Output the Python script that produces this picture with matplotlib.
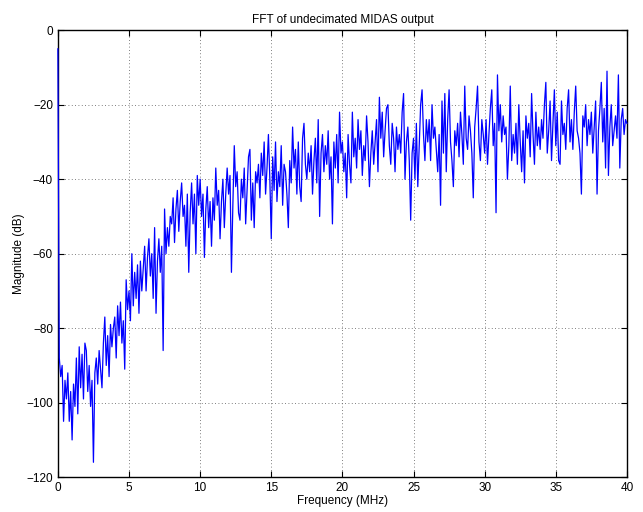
import numpy as np
import matplotlib
matplotlib.use("Agg")
import matplotlib.pyplot as plt

plt.rcParams['font.family'] = ['Liberation Sans', 'DejaVu Sans']

# magnitude (dB), every 0.1 MHz from 0 to 40 MHz
mag_db = [
    -5, -88, -93, -90, -105, -94, -99, -92, -105, -97, -110, -95, -101, -88, -103, -85, -96, -87, -99, -84,
    -86, -97, -90, -101, -94, -116, -92, -88, -95, -86, -91, -96, -84, -77, -90, -82, -93, -79, -85, -80,
    -77, -88, -74, -82, -73, -84, -78, -91, -67, -75, -70, -78, -60, -74, -65, -72, -63, -76, -62, -70,
    -64, -58, -70, -61, -56, -66, -60, -72, -53, -76, -62, -56, -65, -58, -86, -48, -60, -53, -58, -50,
    -52, -45, -57, -48, -43, -54, -46, -41, -50, -47, -58, -44, -65, -49, -41, -52, -44, -60, -39, -47,
    -40, -50, -44, -61, -48, -42, -53, -46, -58, -45, -51, -37, -47, -43, -56, -46, -40, -53, -44, -37,
    -44, -39, -65, -47, -31, -42, -38, -49, -51, -40, -45, -37, -52, -43, -34, -32, -51, -41, -53, -38,
    -41, -36, -45, -33, -39, -30, -44, -37, -28, -40, -56, -34, -43, -30, -46, -38, -42, -31, -47, -36,
    -38, -44, -53, -35, -41, -26, -37, -32, -44, -30, -42, -46, -29, -25, -36, -40, -33, -38, -31, -44,
    -35, -29, -41, -24, -50, -33, -28, -38, -31, -36, -27, -40, -34, -52, -30, -37, -28, -41, -22, -33,
    -30, -38, -33, -45, -28, -36, -41, -22, -34, -29, -37, -24, -32, -27, -39, -31, -35, -23, -30, -42,
    -33, -27, -36, -30, -24, -38, -18, -29, -22, -34, -27, -21, -20, -31, -36, -25, -29, -38, -26, -32,
    -28, -33, -22, -17, -40, -30, -26, -35, -51, -33, -29, -40, -25, -42, -31, -20, -16, -28, -35, -24,
    -30, -24, -35, -20, -29, -26, -32, -38, -28, -47, -19, -33, -17, -38, -24, -16, -30, -35, -42, -27,
    -31, -25, -34, -22, -28, -36, -15, -29, -32, -23, -27, -33, -45, -26, -21, -15, -30, -35, -24, -28,
    -33, -24, -36, -28, -21, -16, -31, -25, -49, -12, -27, -20, -30, -23, -28, -26, -40, -31, -15, -35,
    -28, -33, -25, -36, -20, -30, -38, -27, -41, -23, -29, -25, -34, -17, -28, -36, -22, -31, -26, -32,
    -24, -29, -20, -14, -33, -27, -19, -35, -25, -16, -31, -22, -35, -36, -19, -28, -25, -32, -21, -16,
    -30, -24, -32, -22, -15, -27, -29, -33, -44, -23, -26, -20, -31, -24, -28, -22, -33, -26, -19, -44,
    -27, -21, -14, -30, -21, -37, -11, -39, -26, -20, -31, -27, -23, -29, -12, -37, -24, -21, -28, -24,
    -25,
]
freq_mhz = np.linspace(0, 40, len(mag_db))

x_ticks = [0, 5, 10, 15, 20, 25, 30, 35, 40]
y_ticks = [-120, -100, -80, -60, -40, -20, 0]

fig = plt.figure(figsize=(6.43, 5.12), dpi=100)
ax = fig.add_axes([0.090, 0.068, 0.885, 0.873])

# drawn above the spines so the DC spike at 0 MHz stays visible
ax.plot(freq_mhz, mag_db, color=(0, 0, 1), linewidth=0.9, zorder=3, clip_on=False)

ax.set_xlim(0, 40)
ax.set_ylim(-120, 0)
ax.set_xticks(x_ticks)
ax.set_yticks(y_ticks)
ax.grid(True, linestyle=(0, (1, 3)), color='#555555', linewidth=0.6)
ax.tick_params(direction='in', top=True, right=True, labelsize=8.5, length=4, width=0.8)
for s in ax.spines.values():
    s.set_linewidth(1.0)

ax.set_xlabel('Frequency (MHz)', fontsize=8.5, labelpad=1)
ax.set_ylabel('Magnitude (dB)', fontsize=8.5, labelpad=1)
ax.set_title('FFT of undecimated MIDAS output', fontsize=8.5, pad=5)

fig.savefig('out.png', dpi=100)
